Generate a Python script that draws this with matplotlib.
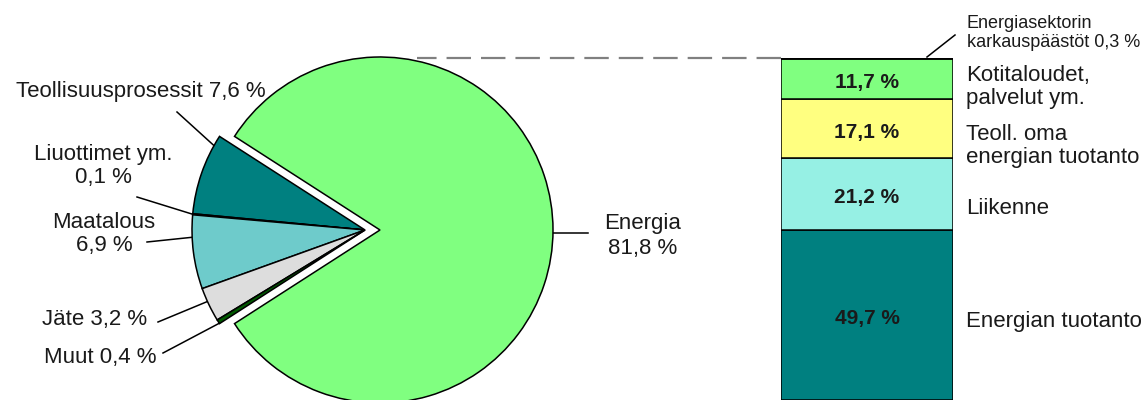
import numpy as np
import matplotlib
matplotlib.use("Agg")
import matplotlib.pyplot as plt

# ---- data ----
pie_labels = ["Teollisuusprosessit 7,6 %", "Liuottimet ym.\n0,1 %", "Maatalous\n6,9 %",
              "Jäte 3,2 %", "Muut 0,4 %", "Energia\n81,8 %"]
pie_values = [7.6, 0.1, 6.9, 3.2, 0.4, 81.8]
pie_colors = ["#008080", "#1a3a3a", "#6ECBCB", "#DDDDDD", "#005A00", "#80FF80"]

bar_labels = ["Energian tuotanto", "Liikenne", "Teoll. oma\nenergian tuotanto",
              "Kotitaloudet,\npalvelut ym.", "Energiasektorin\nkarkauspäästöt 0,3 %"]
bar_values = [49.7, 21.2, 17.1, 11.7, 0.3]
bar_value_text = ["49,7 %", "21,2 %", "17,1 %", "11,7 %", ""]
bar_colors = ["#008080", "#96F0E4", "#FFFF80", "#80FF80", "#333333"]

plt.rcParams['font.family'] = ['Liberation Sans', 'DejaVu Sans']
TXT = "#1a1a1a"

W, H = 1148, 400
fig = plt.figure(figsize=(W / 100, H / 100), dpi=100)
ax = fig.add_axes([0, 0, 1, 1])

def P(x, y):
    """pixel (top-left origin) -> data coords"""
    return x, H - y

# ---- pie ----
cx, cy = P(365, 230)
R = 173
total = sum(pie_values)
small = total - pie_values[-1]
start = 180 - small / total * 360 / 2
explode = [0, 0, 0, 0, 0, 15]   # absolute offset in data units
wedges, _ = ax.pie(pie_values, colors=pie_colors, explode=explode, center=(cx, cy),
                   radius=R, startangle=start, counterclock=True, frame=True,
                   wedgeprops=dict(edgecolor="black", linewidth=1.1))
for w in wedges:
    w.set_zorder(3)

# leader lines: (outer pixel point, fraction inside wedge angle)
leader = [((177, 112), 0.13), ((137, 197), 0.5), ((147, 242), 0.3),
          ((158, 322), 0.4), ((163, 353), 0.9)]
for (pt, frac), w in zip(leader, wedges[:5]):
    th = np.deg2rad(w.theta1 + frac * (w.theta2 - w.theta1))
    ex, ey = w.center[0] + R * np.cos(th), w.center[1] + R * np.sin(th)
    ox, oy = P(*pt)
    ax.plot([ox, ex], [oy, ey], color="black", lw=1.1, zorder=2)
# Energia leader
we = wedges[-1]
ax.plot([we.center[0] + R, P(588, 0)[0]], [we.center[1] - 3, we.center[1] - 3],
        color="black", lw=1.1, zorder=2)

label_pos = [((141, 92), 1.15), ((103, 166), 1.15), ((104, 234), 1.15),
             ((95, 320), 1.15), ((100, 357), 1.15), ((643, 236), 1.3)]
for lab, ((x, y), ls) in zip(pie_labels, label_pos):
    tx, ty = P(x, y)
    ax.text(tx, ty, lab, ha="center", va="center", fontsize=16, color=TXT,
            multialignment="center", linespacing=ls)

# dashed connector from pie top to bar top
ax.plot([P(781, 0)[0], P(417, 0)[0]], [P(0, 58)[1]] * 2, color="#808080", lw=1.6,
        dashes=(11, 4.5), zorder=1)

ax.set_xlim(0, W)
ax.set_ylim(0, H)
ax.set_aspect("equal")
ax.axis("off")

# ---- stacked bar ----
bx0, bx1, btop = 781, 953, 58
bax = fig.add_axes([bx0 / W, 0, (bx1 - bx0) / W, (H - btop) / H])
bottom = 0
for v, c, t in zip(bar_values, bar_colors, bar_value_text):
    bax.bar(0, v, width=1, bottom=bottom, color=c, edgecolor="black", linewidth=1.1)
    if t:
        bax.text(0, bottom + v / 2 - 1.1, t, ha="center", va="center", fontsize=15,
                 fontweight="bold", color=TXT)
    bottom += v
bax.set_xlim(-0.5, 0.5)
bax.set_ylim(0, sum(bar_values))
bax.axis("off")

# bar labels
bar_label_pos = [(966, 322, 16), (966, 208, 16), (966, 146, 16), (966, 87, 16), (967, 33, 13)]
for lab, (x, y, fs) in zip(bar_labels, bar_label_pos):
    tx, ty = P(x, y)
    ax.text(tx, ty, lab, ha="left", va="center", fontsize=fs, color=TXT, linespacing=1.15)

# karkaus leader
ax.plot([P(927, 0)[0], P(955, 0)[0]], [P(0, 57)[1], P(0, 35)[1]], color="black", lw=1.1)

fig.savefig("out.png", dpi=100)
